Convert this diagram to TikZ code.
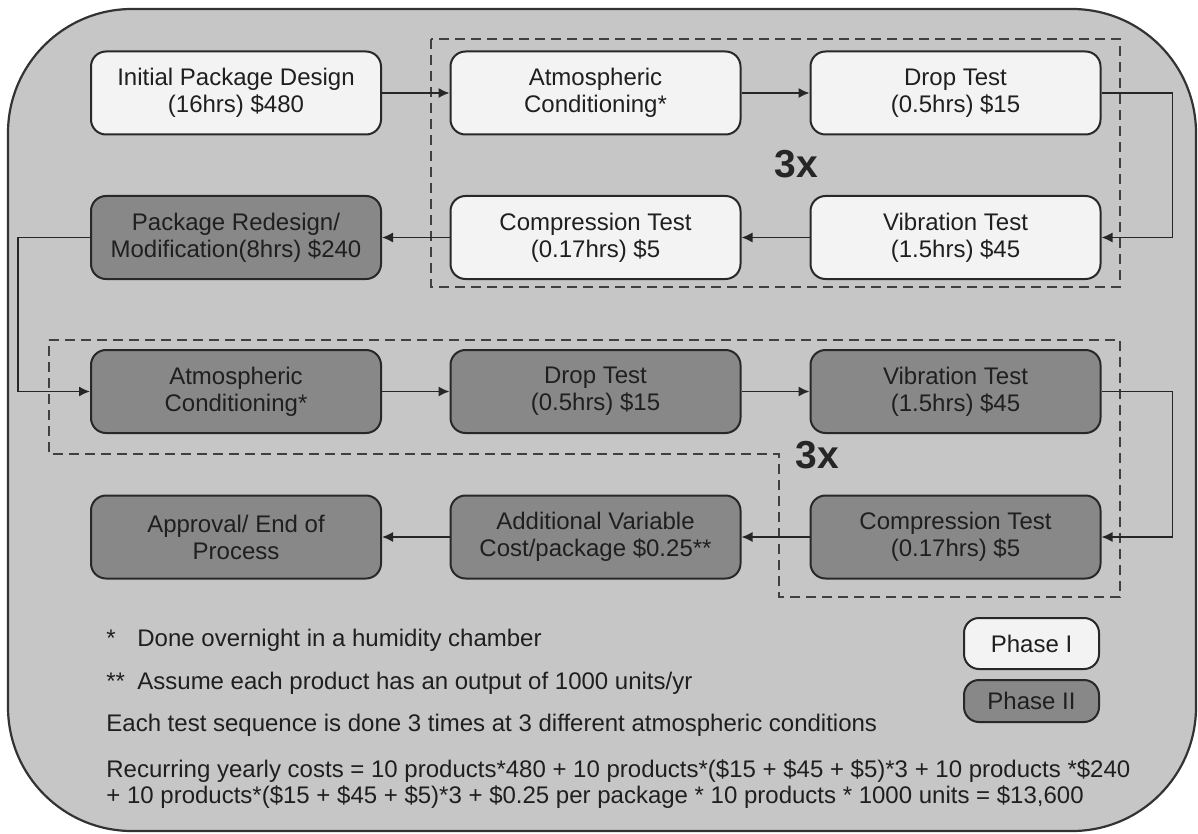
\documentclass[tikz,border=0pt]{standalone}
\usepackage{fontspec}
\setmainfont{Liberation Sans}
\usetikzlibrary{arrows.meta}
\usetikzlibrary{positioning}

\definecolor{bgGray}{RGB}{198,198,198}
\definecolor{phaseOne}{RGB}{243,243,243}
\definecolor{phaseTwo}{RGB}{136,136,136}
\definecolor{lineGray}{RGB}{40,40,40}

\begin{document}
\begin{tikzpicture}[x=0.5pt,y=0.5pt,yscale=-1,
  box/.style={draw=lineGray,line width=1pt,rounded corners=7.5pt,minimum width=145pt,minimum height=41.5pt,align=center,inner sep=0pt,text=black!88,font=\fontsize{12}{13.5}\selectfont},
  phaseone/.style={box,fill=phaseOne},
  phasetwo/.style={box,fill=phaseTwo},
  flow/.style={draw=black!85,line width=0.75pt,-{Latex[length=5.5pt,width=5pt]}},
  loopline/.style={draw=black!75,line width=0.75pt,dash pattern=on 5pt off 3pt},
  note/.style={anchor=west,inner sep=0pt,text=black!88,font=\fontsize{12}{13.5}\selectfont},
  times/.style={inner sep=0pt,text=black!85,font=\fontsize{19.5}{20}\selectfont\bfseries}]
%set diagram to the size of the reference
\useasboundingbox (0,0) rectangle (1198,834);

\draw [draw=black!80,line width=1.1pt,fill=bgGray,rounded corners=62pt] (8,9) rectangle (1196,831);

% repeated test loops
\draw [loopline] (431,39) rectangle (1120,287);
\draw [loopline] (49,340) -- (1120,340) -- (1120,597) -- (779,597) -- (779,454) -- (49,454) -- cycle;

\node [phaseone] (init) at (236,93) {Initial Package Design\\(16hrs) \$480};
\node [phaseone] (atmA) at (595.5,93) {Atmospheric\\Conditioning*};
\node [phaseone] (dropA) at (955.5,93) {Drop Test\\(0.5hrs) \$15};
\node [phasetwo] (redesign) at (236,237.5) {Package Redesign/\\Modification(8hrs) \$240};
\node [phaseone] (compA) at (595.5,237.5) {Compression Test\\(0.17hrs) \$5};
\node [phaseone] (vibA) at (955.5,237.5) {Vibration Test\\(1.5hrs) \$45};
\node [phasetwo] (atmB) at (236,391.5) {Atmospheric\\Conditioning*};
\node [phasetwo] (dropB) at (595.5,391.5) {Drop Test\\(0.5hrs) \$15};
\node [phasetwo] (vibB) at (955.5,391.5) {Vibration Test\\(1.5hrs) \$45};
\node [phasetwo] (approval) at (236,537) {Approval/ End of\\Process};
\node [phasetwo] (extra) at (595.5,537) {Additional Variable\\Cost/package \$0.25**};
\node [phasetwo] (compB) at (955.5,537) {Compression Test\\(0.17hrs) \$5};

\node [times] (timesA) at (796,164) {3x};
\node [times] (timesB) at (817,455) {3x};

\draw [flow] (init) -- (atmA);
\draw [flow] (atmA) -- (dropA);
\draw [flow] (dropA.east) -- ++(71,0) |- (vibA.east);
\draw [flow] (vibA) -- (compA);
\draw [flow] (compA) -- (redesign);
\draw [flow] (redesign.west) -- ++(-72,0) |- (atmB.west);
\draw [flow] (atmB) -- (dropB);
\draw [flow] (dropB) -- (vibB);
\draw [flow] (vibB.east) -- ++(71,0) |- (compB.east);
\draw [flow] (compB) -- (extra);
\draw [flow] (extra) -- (approval);

% legend
\node [phaseone,minimum width=67.5pt,minimum height=25.5pt] (keyOne) at (1031.5,643.5) {Phase I};
\node [phasetwo,minimum width=67.5pt,minimum height=21pt] (keyTwo) at (1031.5,701) {Phase II};

% notes
\node [note] (starOne) at (106,638) {*};
\node [note] (noteOne) at (137,640) {Done overnight in a humidity chamber};
\node [note] (starTwo) at (106,681) {**};
\node [note] (noteTwo) at (137,683) {Assume each product has an output of 1000 units/yr};
\node [note] (noteThree) at (106,725) {Each test sequence is done 3 times at 3 different atmospheric conditions};
\node [note] (costOne) at (106,771) {Recurring yearly costs = 10 products*480 + 10 products*(\$15 + \$45 + \$5)*3 + 10 products *\$240};
\node [note] (costTwo) at (106,797) {+ 10 products*(\$15 + \$45 + \$5)*3 + \$0.25 per package * 10 products * 1000 units = \$13,600};

\end{tikzpicture}
\end{document}
